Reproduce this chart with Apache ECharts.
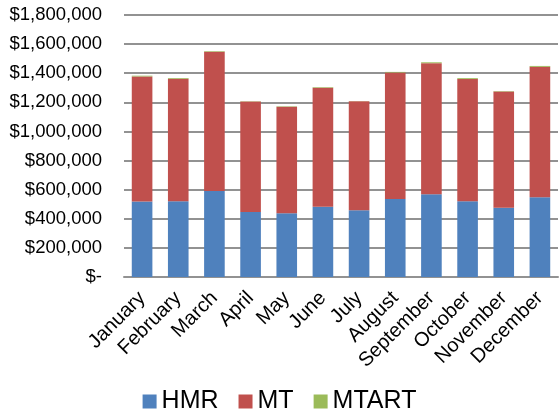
<!DOCTYPE html>
<html>
<head>
<meta charset="utf-8">
<script src="https://cdn.jsdelivr.net/npm/echarts@6/dist/echarts.min.js"></script>
<style>
  html, body { margin: 0; padding: 0; background: #fff; }
  #chart { width: 559px; height: 414px; }
</style>
</head>
<body>
<div id="chart"></div>
<script>
// Monthly revenue split by line of business
var months = ['January', 'February', 'March', 'April', 'May', 'June', 'July',
              'August', 'September', 'October', 'November', 'December'];
var hmr   = [518000, 520000, 591000, 447000, 438000, 483000, 458000, 536000, 568000, 520000, 476000, 548000];
var mt    = [860000, 842000, 956000, 758000, 732000, 817000, 750000, 869000, 901000, 840000, 799000, 896000];
var mtart = [5000, 5000, 4000, 2000, 3000, 4000, 1000, 4000, 6000, 6000, 3000, 6000];
var yTicks = [0, 200000, 400000, 600000, 800000, 1000000, 1200000, 1400000, 1600000, 1800000];

function money(v) {
  if (v === 0) return '$-';
  return '$' + v.toString().replace(/\B(?=(\d{3})+(?!\d))/g, ',');
}

var font = 'Liberation Sans, Arial, sans-serif';
var chart = echarts.init(document.getElementById('chart'), null, { renderer: 'canvas' });

function bar(name, data, color) {
  return {
    name: name,
    type: 'bar',
    stack: 'total',
    data: data,
    barCategoryGap: '43%',
    itemStyle: { color: color },
    emphasis: { disabled: true }
  };
}

chart.setOption({
  animation: false,
  textStyle: { fontFamily: font },
  grid: { left: 124, right: 1, top: 15, bottom: 137 },
  legend: {
    top: 384,
    left: 'center',
    itemWidth: 14,
    itemHeight: 14,
    itemGap: 20,
    icon: 'rect',
    textStyle: { fontSize: 25, color: '#000', fontFamily: font },
    data: ['HMR', 'MT', 'MTART']
  },
  xAxis: {
    type: 'category',
    data: months,
    axisLine: { lineStyle: { color: '#929292', width: 2 } },
    axisTick: { show: false },
    axisLabel: {
      rotate: 45,
      interval: 0,
      margin: 18,
      fontSize: 20,
      color: '#000',
      fontFamily: font
    }
  },
  yAxis: {
    type: 'value',
    min: yTicks[0],
    max: yTicks[yTicks.length - 1],
    interval: yTicks[1] - yTicks[0],
    axisLine: { show: false },
    axisTick: { show: false },
    splitLine: { lineStyle: { color: '#929292', width: 2 } },
    axisLabel: {
      margin: 22,
      fontSize: 18.5,
      color: '#000',
      fontFamily: font,
      formatter: money
    }
  },
  series: [
    bar('HMR', hmr, '#4f81bd'),
    bar('MT', mt, '#c0504d'),
    bar('MTART', mtart, '#9bbb59')
  ]
});
</script>
</body>
</html>
